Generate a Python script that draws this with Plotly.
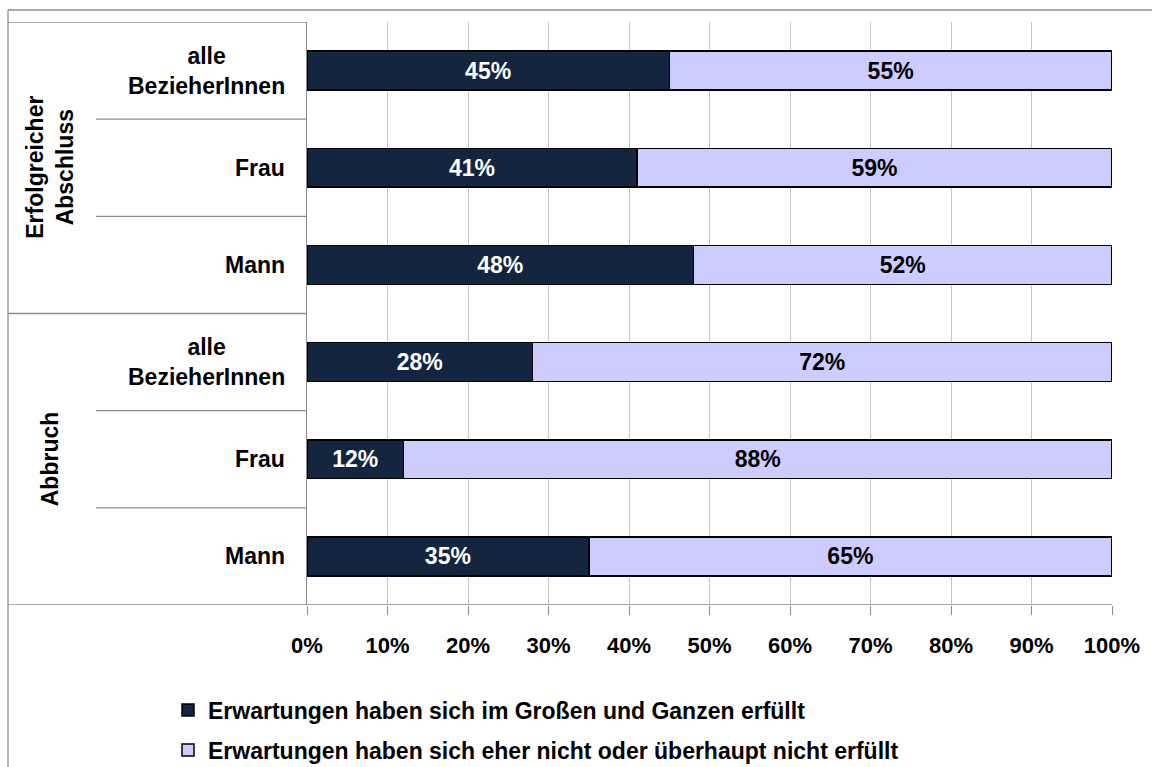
import plotly.graph_objects as go

# Categories (top to bottom) and their groups
groups = ["Erfolgreicher<br>Abschluss", "Abbruch"]
categories = ["alle<br>BezieherInnen", "Frau", "Mann",
              "alle<br>BezieherInnen", "Frau", "Mann"]
group_of = [0, 0, 0, 1, 1, 1]

# Shares in percent
erfuellt = [45, 41, 48, 28, 12, 35]
nicht_erfuellt = [55, 59, 52, 72, 88, 65]

series_names = [
    "Erwartungen haben sich im Großen und Ganzen erfüllt",
    "Erwartungen haben sich eher nicht oder überhaupt nicht erfüllt",
]
x_ticks = [0, 10, 20, 30, 40, 50, 60, 70, 80, 90, 100]
x_ticktext = [f"{v}%" for v in x_ticks]

DARK = "#14263F"
LIGHT = "#CCCCFF"
FONT = "Liberation Sans, Arial, sans-serif"
FS = 23
FS_TICK = 22
FS_LEG = 23

W, H = 1152, 767
ML, MR, MT, MB = 307, 40, 22, 162
PW = W - ML - MR
PH = H - MT - MB


def px_x(p):
    """pixel x -> paper x"""
    return (p - ML) / PW


def px_y(p):
    """pixel y (from top) -> paper y"""
    return (H - MB - p) / PH


ypos = list(range(len(categories)))

fig = go.Figure()
fig.add_trace(go.Bar(
    y=ypos, x=erfuellt, orientation="h", name=series_names[0],
    marker=dict(color=DARK, line=dict(color="black", width=1.5)),
    width=0.4, text=[f"{v}%" for v in erfuellt], textposition="inside",
    insidetextanchor="middle", textangle=0,
    textfont=dict(color="white", size=FS, family=FONT, weight="bold"),
    legend="legend", hoverinfo="skip",
))
fig.add_trace(go.Bar(
    y=ypos, x=nicht_erfuellt, orientation="h", name=series_names[1],
    marker=dict(color=LIGHT, line=dict(color="black", width=1.5)),
    width=0.4, text=[f"{v}%" for v in nicht_erfuellt], textposition="inside",
    insidetextanchor="middle", textangle=0,
    textfont=dict(color="black", size=FS, family=FONT, weight="bold"),
    legend="legend2", hoverinfo="skip",
))

shapes = []
LINE = dict(color="#8c8c8c", width=1.3)
# outer chart frame (top and left edges)
shapes.append(dict(type="line", xref="paper", yref="paper",
                   x0=px_x(8), x1=px_x(W + 5), y0=px_y(10), y1=px_y(10), line=LINE))
shapes.append(dict(type="line", xref="paper", yref="paper",
                   x0=px_x(8), x1=px_x(8), y0=px_y(10), y1=px_y(H + 5), line=LINE))
# category separators
n = len(categories)
for b in range(n + 1):
    yb = b - 0.5
    if b == 0 or b == n or group_of[b - 1] != group_of[min(b, n - 1)]:
        x0 = px_x(8)
    else:
        x0 = px_x(96)
    x1 = 1 if b == n else 0
    shapes.append(dict(type="line", xref="paper", yref="y",
                       x0=x0, x1=x1, y0=yb, y1=yb, line=LINE))

annotations = []
for i, c in enumerate(categories):
    annotations.append(dict(
        xref="paper", yref="y", x=0, y=i, xshift=-20, xanchor="right",
        yanchor="middle", align="center", text=c, showarrow=False,
        font=dict(size=FS, family=FONT, color="black", weight="bold"),
    ))
for g, label in enumerate(groups):
    members = [i for i in range(n) if group_of[i] == g]
    ymid = (members[0] + members[-1]) / 2
    annotations.append(dict(
        xref="paper", yref="y", x=px_x(50), y=ymid, xanchor="center",
        yanchor="middle", align="center", text=label, textangle=-90,
        showarrow=False,
        font=dict(size=FS, family=FONT, color="black", weight="bold"),
    ))

legend_common = dict(
    orientation="v", xanchor="left", yanchor="middle",
    font=dict(size=FS_LEG, family=FONT, color="black", weight="bold"),
    bgcolor="rgba(0,0,0,0)", itemwidth=30, traceorder="normal",
)

fig.update_layout(
    width=W, height=H,
    margin=dict(l=ML, r=MR, t=MT, b=MB, autoexpand=False),
    paper_bgcolor="white", plot_bgcolor="white",
    barmode="stack",
    font=dict(family=FONT, size=FS, color="black"),
    xaxis=dict(
        range=[0, 100], tickvals=x_ticks, ticktext=x_ticktext,
        showgrid=True, gridcolor="#c4c4c4", gridwidth=1,
        ticks="outside", ticklen=9, tickcolor="#8c8c8c", tickwidth=1.3,
        showline=False, zeroline=False, ticklabelstandoff=12,
        tickfont=dict(size=FS_TICK, family=FONT, color="black", weight="bold"),
        fixedrange=True, automargin=False,
    ),
    yaxis=dict(
        range=[n - 0.5, -0.5], showticklabels=False, ticks="",
        showgrid=False, zeroline=False,
        showline=True, linecolor="#8c8c8c", linewidth=1.3,
        fixedrange=True, automargin=False,
    ),
    shapes=shapes,
    annotations=annotations,
    legend=dict(x=px_x(168), y=px_y(710), **legend_common),
    legend2=dict(x=px_x(168), y=px_y(750), **legend_common),
    showlegend=True,
)

fig.write_html("out.html")
